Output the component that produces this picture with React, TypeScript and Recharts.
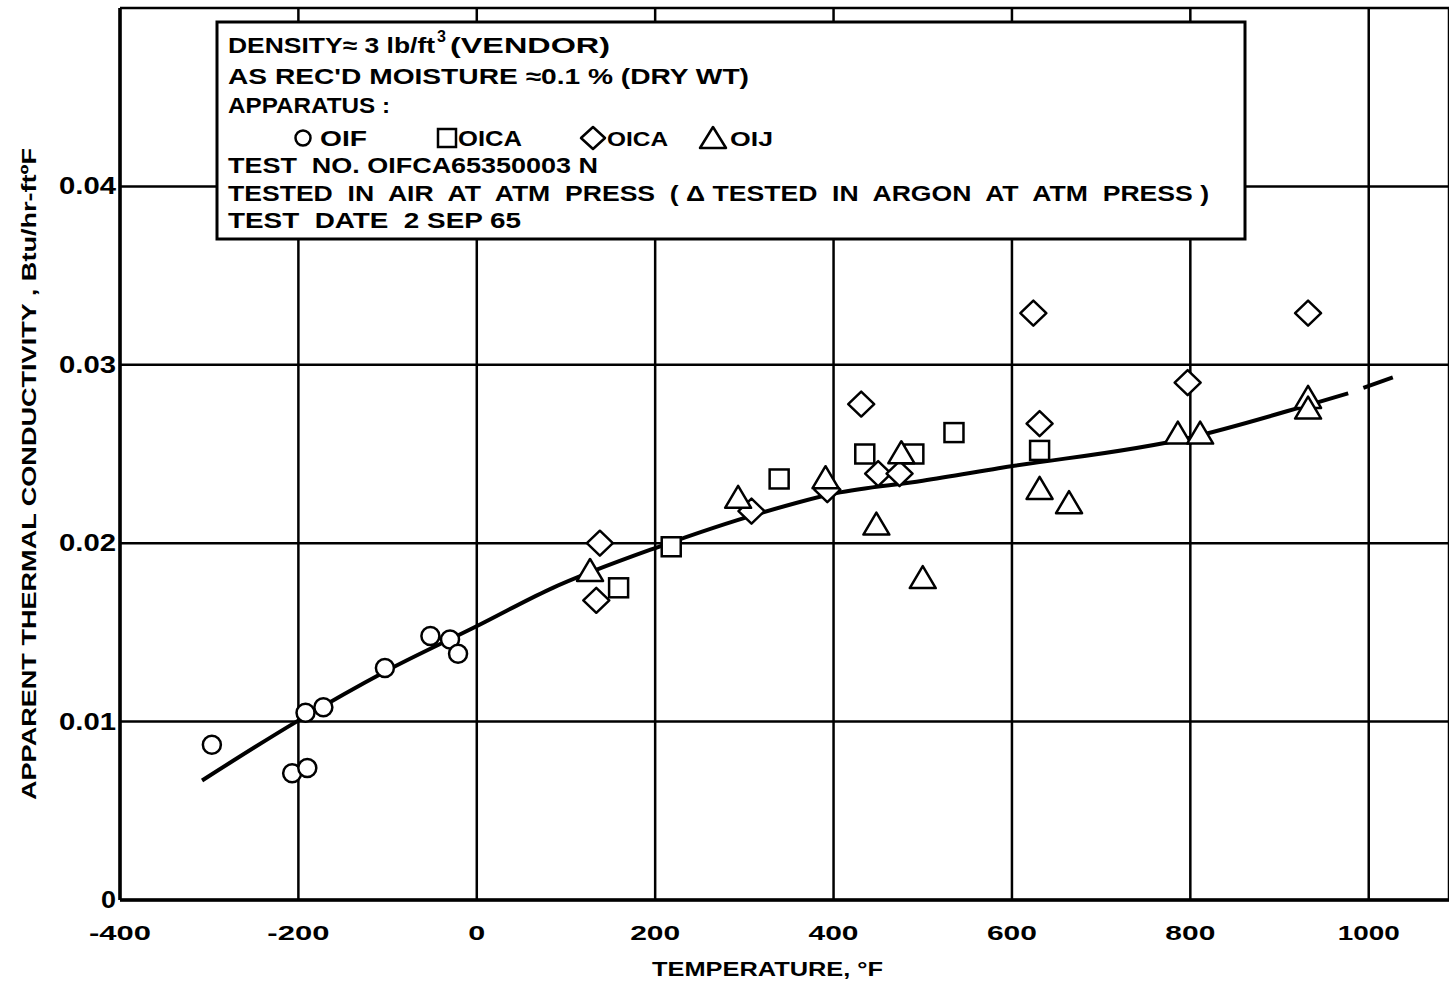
import React from 'react';
import { ScatterChart, Scatter, XAxis, YAxis, CartesianGrid, Label } from 'recharts';

// Apparatus 01F (circles)
const OIF_TEMP = [-297, -207, -190, -192, -172, -103, -52, -30, -21];
const OIF_K = [0.0087, 0.0071, 0.0074, 0.0105, 0.0108, 0.0130, 0.0148, 0.0146, 0.0138];
// Apparatus 01CA (squares)
const OICA_SQ_TEMP = [159, 218, 339, 435, 490, 535, 631];
const OICA_SQ_K = [0.0175, 0.0198, 0.0236, 0.0250, 0.0250, 0.0262, 0.0252];
// Apparatus 01CA (diamonds)
const OICA_DM_TEMP = [134, 138, 308, 393, 431, 450, 474, 624, 631, 797, 932];
const OICA_DM_K = [0.0168, 0.0200, 0.0218, 0.0230, 0.0278, 0.0239, 0.0239, 0.0329, 0.0267, 0.0290, 0.0329];
// Apparatus 01J (triangles, argon)
const OIJ_TEMP = [127, 293, 391, 448, 476, 500, 631, 664, 786, 811, 932, 932];
const OIJ_K = [0.0185, 0.0226, 0.0237, 0.0211, 0.0251, 0.0181, 0.0231, 0.0223, 0.0262, 0.0262, 0.0282, 0.0276];
// Faired curve
const CURVE_TEMP = [-308, -202, -103, 2, 81, 204, 319, 402, 500, 585, 798, 936, 977];
const CURVE_K = [0.0067, 0.0100, 0.0128, 0.0154, 0.0174, 0.0198, 0.0217, 0.0228, 0.0235, 0.0242, 0.0259, 0.0278, 0.0284];
const TAIL_TEMP = [994, 1027];
const TAIL_K = [0.0287, 0.0293];

const X_TICKS = [-400, -200, 0, 200, 400, 600, 800, 1000];
const Y_TICKS = [0, 0.01, 0.02, 0.03, 0.04, 0.05];
const X_TICK_LABELS: Record<number, string> = { [-400]: '-400', [-200]: '-200', 0: '0', 200: '200', 400: '400', 600: '600', 800: '800', 1000: '1000' };
const Y_TICK_LABELS: Record<number, string> = { 0: '0', 0.01: '0.01', 0.02: '0.02', 0.03: '0.03', 0.04: '0.04' };

const zip = (t: number[], k: number[]) => t.map((x, i) => ({ x, k: k[i] }));

const FONT = '"Liberation Sans", Arial, sans-serif';

const CircleShape = (p: any) => <circle cx={p.cx} cy={p.cy} r={9} fill="#fff" stroke="#000" strokeWidth={2.5} />;
const SquareShape = (p: any) => <rect x={p.cx - 9.5} y={p.cy - 9.5} width={19} height={19} fill="#fff" stroke="#000" strokeWidth={2.5} />;
const DiamondShape = (p: any) => (
  <polygon points={`${p.cx},${p.cy - 12.5} ${p.cx + 13},${p.cy} ${p.cx},${p.cy + 12.5} ${p.cx - 13},${p.cy}`} fill="#fff" stroke="#000" strokeWidth={2.5} strokeLinejoin="round" />
);
const TriangleShape = (p: any) => (
  <polygon points={`${p.cx},${p.cy - 11} ${p.cx + 13},${p.cy + 11} ${p.cx - 13},${p.cy + 11}`} fill="#fff" stroke="#000" strokeWidth={2.5} strokeLinejoin="round" />
);
const NoShape = () => <g />;

const XTick = (p: any) => {
  const v = p.payload.value;
  const s = X_TICK_LABELS[v] ?? String(v);
  const len = s.length === 1 ? 17 : s.length === 3 ? 50 : 62;
  return (
    <text x={p.x} y={p.y + 32} textAnchor="middle" dominantBaseline="central" fontFamily={FONT} fontWeight="bold" fontSize={21} fill="#000" textLength={len} lengthAdjust="spacingAndGlyphs">
      {s}
    </text>
  );
};

const YTick = (p: any) => {
  const v = p.payload.value;
  const s = Y_TICK_LABELS[v];
  if (!s) return <g />;
  const len = s.length === 1 ? 15 : 57;
  return (
    <text x={p.x - 4} y={p.y} textAnchor="end" dominantBaseline="central" fontFamily={FONT} fontWeight="bold" fontSize={23} fill="#000" textLength={len} lengthAdjust="spacingAndGlyphs">
      {s}
    </text>
  );
};

const XLabel = (p: any) => {
  const vb = p.viewBox || { x: 120, y: 900, width: 1329, height: 80 };
  return (
    <text x={vb.x + vb.width / 2 - 17} y={vb.y + 68} textAnchor="middle" dominantBaseline="central" fontFamily={FONT} fontWeight="bold" fontSize={21} fill="#000" textLength={231} lengthAdjust="spacingAndGlyphs">
      TEMPERATURE, °F
    </text>
  );
};

const YLabel = (p: any) => {
  const vb = p.viewBox || { x: 10, y: 8, width: 110, height: 892 };
  const cx = vb.x + 18;
  const cy = vb.y + vb.height / 2 + 20;
  return (
    <text x={cx} y={cy} transform={`rotate(-90 ${cx} ${cy})`} textAnchor="middle" dominantBaseline="central" fontFamily={FONT} fontWeight="bold" fontSize={21} fill="#000" textLength={652} lengthAdjust="spacingAndGlyphs">
      APPARENT THERMAL CONDUCTIVITY , Btu/hr-ftºF
    </text>
  );
};

const hdr = { fontFamily: FONT, fontWeight: 'bold' as const, fontSize: 22, fill: '#000', style: { whiteSpace: 'pre' as const } };

const Header = () => (
  <svg width={1449} height={985} style={{ position: 'absolute', left: 0, top: 0, pointerEvents: 'none' }}>
    <rect x={217} y={22} width={1028} height={217} fill="#fff" stroke="#000" strokeWidth={3} />
    <text x={228} y={53} {...hdr} textLength={207} lengthAdjust="spacingAndGlyphs">DENSITY≈ 3 lb/ft</text>
    <text x={437} y={42} {...hdr} fontSize={16}>3</text>
    <text x={450} y={53} {...hdr} textLength={160} lengthAdjust="spacingAndGlyphs">(VENDOR)</text>
    <text x={228} y={84} {...hdr} textLength={521} lengthAdjust="spacingAndGlyphs">AS REC'D MOISTURE ≈0.1 % (DRY WT)</text>
    <text x={228} y={113} {...hdr} textLength={162} lengthAdjust="spacingAndGlyphs">APPARATUS :</text>
    <circle cx={303} cy={138} r={7.5} fill="#fff" stroke="#000" strokeWidth={2.5} />
    <text x={320} y={146} {...hdr} textLength={47} lengthAdjust="spacingAndGlyphs">OIF</text>
    <rect x={438} y={129} width={18} height={18} fill="#fff" stroke="#000" strokeWidth={2.5} />
    <text x={458} y={146} {...hdr} textLength={64} lengthAdjust="spacingAndGlyphs">OICA</text>
    <polygon points="593,127 605,138 593,149 581,138" fill="#fff" stroke="#000" strokeWidth={2.5} strokeLinejoin="round" />
    <text x={607} y={146} {...hdr} fontSize={21} textLength={61} lengthAdjust="spacingAndGlyphs">OICA</text>
    <polygon points="713,127 726,148 700,148" fill="#fff" stroke="#000" strokeWidth={2.5} strokeLinejoin="round" />
    <text x={730} y={146} {...hdr} fontSize={20} textLength={43} lengthAdjust="spacingAndGlyphs">OIJ</text>
    <text x={228} y={173} {...hdr} textLength={370} lengthAdjust="spacingAndGlyphs">TEST  NO. OIFCA65350003 N</text>
    <text x={228} y={201} {...hdr} textLength={981} lengthAdjust="spacingAndGlyphs">TESTED  IN  AIR  AT  ATM  PRESS  ( Δ TESTED  IN  ARGON  AT  ATM  PRESS )</text>
    <text x={228} y={228} {...hdr} textLength={293} lengthAdjust="spacingAndGlyphs">TEST  DATE  2 SEP 65</text>
  </svg>
);

export default function App() {
  return (
    <div style={{ position: 'absolute', left: 0, top: 0, width: 1449, height: 985, background: '#fff', overflow: 'hidden' }}>
      <ScatterChart width={1449} height={985} margin={{ top: 8, right: 0, bottom: 5, left: 10 }}>
        <CartesianGrid stroke="#000" strokeWidth={2.5} />
        <XAxis
          type="number"
          dataKey="x"
          domain={[-400, 1090]}
          ticks={X_TICKS}
          allowDataOverflow
          height={80}
          tickSize={0}
          tickMargin={0}
          tickLine={false}
          axisLine={{ stroke: '#000', strokeWidth: 3.5 }}
          tick={<XTick />}
        >
          <Label content={<XLabel />} />
        </XAxis>
        <YAxis
          type="number"
          dataKey="k"
          domain={[0, 0.05]}
          ticks={Y_TICKS}
          allowDataOverflow
          width={110}
          tickSize={0}
          tickMargin={0}
          tickLine={false}
          axisLine={{ stroke: '#000', strokeWidth: 3.5 }}
          tick={<YTick />}
        >
          <Label content={<YLabel />} />
        </YAxis>
        <Scatter data={zip(CURVE_TEMP, CURVE_K)} line={{ stroke: '#000', strokeWidth: 4 }} lineJointType="monotoneX" shape={<NoShape />} isAnimationActive={false} legendType="none" />
        <Scatter data={zip(TAIL_TEMP, TAIL_K)} line={{ stroke: '#000', strokeWidth: 4 }} lineJointType="linear" shape={<NoShape />} isAnimationActive={false} legendType="none" />
        <Scatter data={zip(OIF_TEMP, OIF_K)} shape={<CircleShape />} isAnimationActive={false} />
        <Scatter data={zip(OICA_SQ_TEMP, OICA_SQ_K)} shape={<SquareShape />} isAnimationActive={false} />
        <Scatter data={zip(OICA_DM_TEMP, OICA_DM_K)} shape={<DiamondShape />} isAnimationActive={false} />
        <Scatter data={zip(OIJ_TEMP, OIJ_K)} shape={<TriangleShape />} isAnimationActive={false} />
      </ScatterChart>
      <Header />
    </div>
  );
}
